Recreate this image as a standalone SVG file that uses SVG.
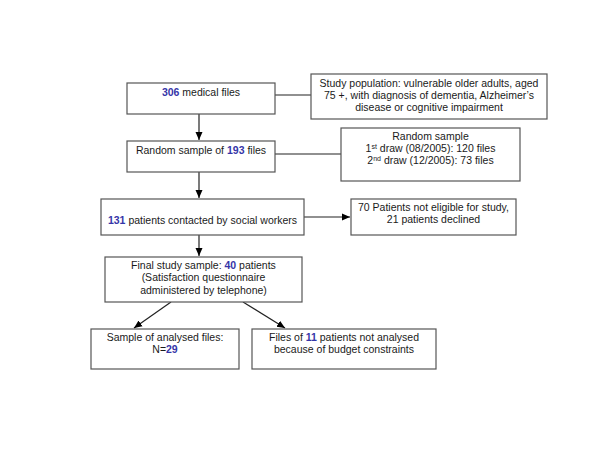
<svg xmlns="http://www.w3.org/2000/svg" width="600" height="464" viewBox="0 0 600 464">
<style>
  .box { fill: #ffffff; stroke: #555555; stroke-width: 1.2; }
  .t { font-family: "Liberation Sans", Arial, sans-serif; font-size: 10.5px; fill: #1a1a1a; text-anchor: middle; }
  .n { fill: #3535a8; font-weight: bold; }
  .sup { font-size: 7px; }
  .ln { stroke: #222222; stroke-width: 1.2; fill: none; }
</style>
<defs>
  <marker id="ah" markerWidth="10" markerHeight="10" refX="8" refY="4" orient="auto" markerUnits="userSpaceOnUse">
    <path d="M0,0.5 L8,4 L0,7.5 Z" fill="#000000"/>
  </marker>
</defs>
<rect width="600" height="464" fill="#ffffff"/>
<g id="connectors">
  <line class="ln" x1="199" y1="114" x2="199" y2="140" marker-end="url(#ah)"/>
  <line class="ln" x1="275" y1="95" x2="311" y2="95"/>
  <line class="ln" x1="275" y1="154" x2="341" y2="154"/>
  <line class="ln" x1="199" y1="172" x2="199" y2="198" marker-end="url(#ah)"/>
  <line class="ln" x1="304" y1="217" x2="350" y2="217" marker-end="url(#ah)"/>
  <line class="ln" x1="199" y1="235" x2="199" y2="256" marker-end="url(#ah)"/>
  <line class="ln" x1="171" y1="302" x2="134" y2="328" marker-end="url(#ah)"/>
  <line class="ln" x1="243" y1="302" x2="285" y2="328" marker-end="url(#ah)"/>
</g>
<g id="n1">
  <rect class="box" x="127" y="83" width="148" height="31"/>
  <text class="t" x="201" y="96"><tspan class="n">306</tspan> medical files</text>
</g>
<g id="n2">
  <rect class="box" x="311" y="74" width="236" height="45"/>
  <text class="t" x="429" y="87">Study population: vulnerable older adults, aged</text>
  <text class="t" x="429" y="99">75 +, with diagnosis of dementia, Alzheimer’s</text>
  <text class="t" x="429" y="111">disease or cognitive impairment</text>
</g>
<g id="n3">
  <rect class="box" x="127" y="141" width="148" height="31"/>
  <text class="t" x="201" y="154">Random sample of <tspan class="n">193</tspan> files</text>
</g>
<g id="n4">
  <rect class="box" x="341" y="128" width="179" height="53"/>
  <text class="t" x="430.5" y="140">Random sample</text>
  <text class="t" x="430.5" y="152">1<tspan class="sup" dy="-3.5">st</tspan><tspan dy="3.5"> draw (08/2005): 120 files</tspan></text>
  <text class="t" x="430.5" y="164">2<tspan class="sup" dy="-3.5">nd</tspan><tspan dy="3.5"> draw (12/2005): 73 files</tspan></text>
</g>
<g id="n5">
  <rect class="box" x="101" y="199" width="203" height="36"/>
  <text class="t" x="202.5" y="224"><tspan class="n">131</tspan> patients contacted by social workers</text>
</g>
<g id="n6">
  <rect class="box" x="351" y="199" width="165" height="36"/>
  <text class="t" x="433.5" y="211">70 Patients not eligible for study,</text>
  <text class="t" x="433.5" y="223">21 patients declined</text>
</g>
<g id="n7">
  <rect class="box" x="105" y="257" width="197" height="45"/>
  <text class="t" x="203.5" y="269">Final study sample: <tspan class="n">40</tspan> patients</text>
  <text class="t" x="203.5" y="281">(Satisfaction questionnaire</text>
  <text class="t" x="203.5" y="294">administered by telephone)</text>
</g>
<g id="n8">
  <rect class="box" x="91" y="329" width="148" height="40"/>
  <text class="t" x="165" y="341">Sample of analysed files:</text>
  <text class="t" x="165" y="353">N=<tspan class="n">29</tspan></text>
</g>
<g id="n9">
  <rect class="box" x="252" y="329" width="184" height="40"/>
  <text class="t" x="344" y="341">Files of <tspan class="n">11</tspan> patients not analysed</text>
  <text class="t" x="344" y="353">because of budget constraints</text>
</g>
</svg>
